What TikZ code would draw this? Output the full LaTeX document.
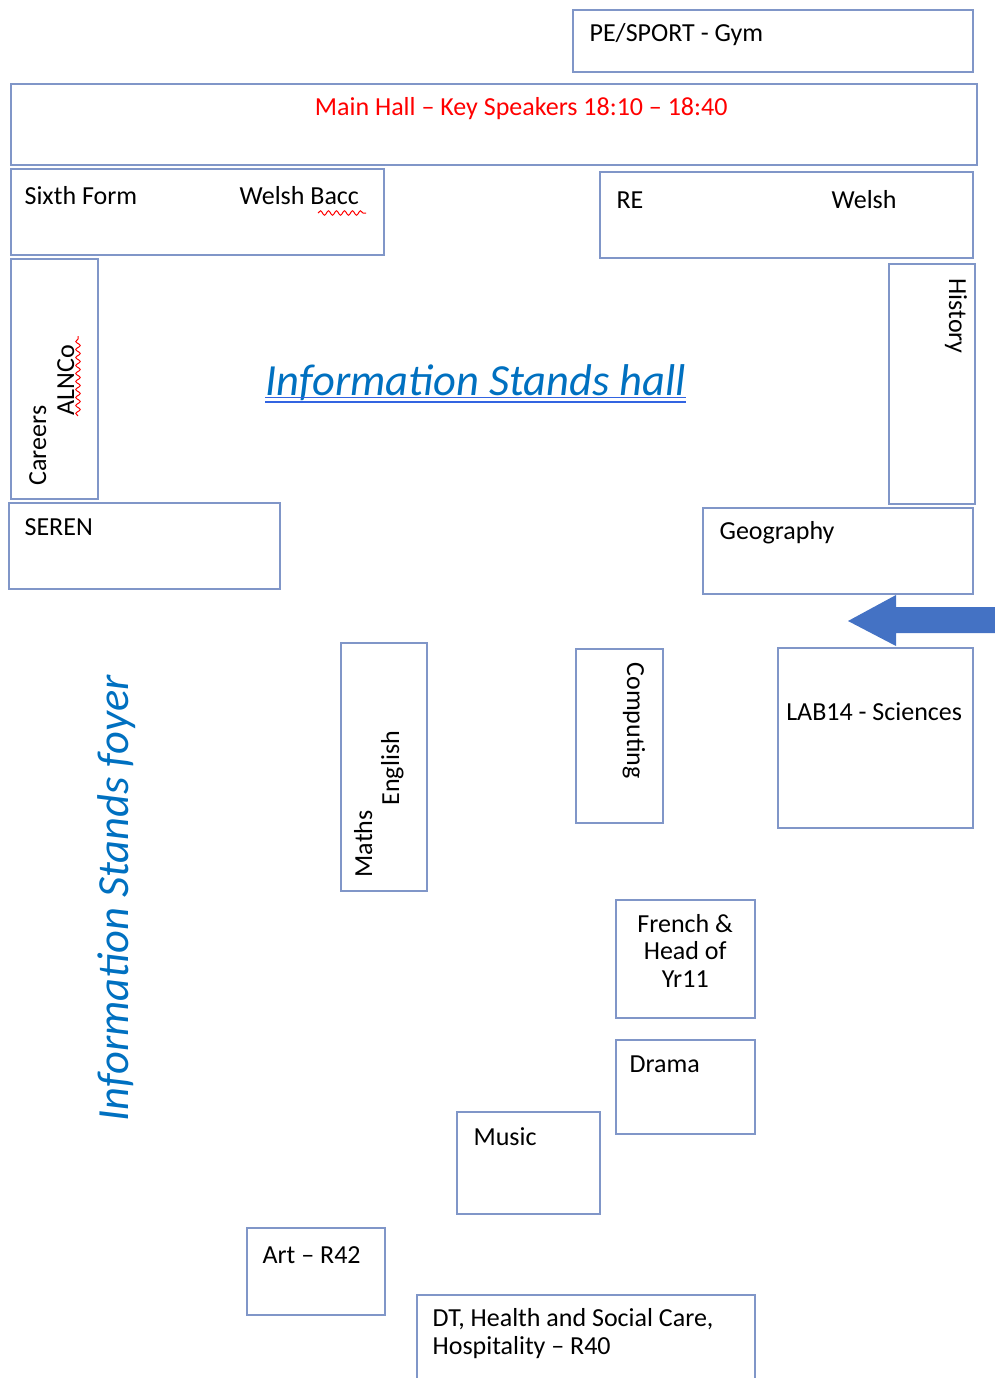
\documentclass[tikz,border=0pt]{standalone}
\usepackage{fontspec}
\setmainfont{Carlito}
\usetikzlibrary{positioning, fit, calc, decorations.pathmorphing}

\definecolor{roomline}{RGB}{128,150,200}
\definecolor{titleblue}{RGB}{0,112,192}
\definecolor{ulblue}{RGB}{50,100,225}
\definecolor{arrowblue}{RGB}{68,114,196}
\definecolor{speakerred}{RGB}{255,0,0}

\begin{document}
\begin{tikzpicture}[x=0.5pt, y=-0.5pt,
        room/.style={draw=roomline, line width=0.8pt, inner sep=0pt},
        lbl/.style={anchor=base west, inner sep=0pt, font=\fontsize{13}{13.75}\selectfont},
        lblc/.style={anchor=base, inner sep=0pt, align=center, font=\fontsize{13}{13.75}\selectfont},
        bigtitle/.style={anchor=base west, inner sep=0pt, text=titleblue, font=\fontsize{22.25}{26}\selectfont\itshape},
        squiggle/.style={draw=red, line width=0.5pt, decorate, decoration={snake, segment length=4pt, amplitude=1.1pt}}
    ]
    \useasboundingbox (0,0) rectangle (995,1378);

    % top row
    \node[room, fit={(573,10) (973,72)}] (pe) {};
    \node[lbl] (pelbl) at ([shift={(17,32)}]pe.north west) {PE/SPORT - Gym};
    \node[room, fit={(11,84) (977,165)}] (mainhall) {};
    \node[lbl, anchor=base, text=speakerred] (mainlbl) at ([shift={(511,32)}]mainhall.north west) {Main Hall – Key Speakers 18:10 – 18:40};

    % hall stands
    \node[room, fit={(11,169) (384,255)}] (sixth) {};
    \node[lbl] (sixthlbl) at ([shift={(14,36)}]sixth.north west) {Sixth Form};
    \node[lbl] (bacclbl) at ([shift={(229,36)}]sixth.north west) {Welsh Bacc};
    \draw[squiggle] (318,213) -- (366,213);
    \node[room, fit={(600,172) (973,258)}] (re) {};
    \node[lbl] (relbl) at ([shift={(17,37)}]re.north west) {RE};
    \node[lbl] (welshlbl) at ([shift={(232,37)}]re.north west) {Welsh};

    \node[room, fit={(11,259) (98,499)}] (careers) {};
    \node[lbl, rotate=90] (careerslbl) at ([shift={(36,-14)}]careers.south west) {Careers};
    \node[lbl, rotate=90] (alncolbl) at ([shift={(64,-84)}]careers.south west) {ALNCo};
    \draw[squiggle] (78,416) -- (78,336);
    \node[room, fit={(889,264) (975,504)}] (history) {};
    \node[lbl, rotate=-90] (historylbl) at ([shift={(61,15)}]history.north west) {History};

    \node[bigtitle] (halltitle) at (265,395) {Information Stands hall};
    \draw[ulblue, line width=0.7pt] ([yshift=-1.2pt]halltitle.base west) -- ([yshift=-1.2pt]halltitle.base east);
    \draw[ulblue, line width=0.7pt] ([yshift=-3.5pt]halltitle.base west) -- ([yshift=-3.5pt]halltitle.base east);

    \node[room, fit={(9,503) (280,589)}] (seren) {};
    \node[lbl] (serenlbl) at ([shift={(16,33)}]seren.north west) {SEREN};
    \node[room, fit={(703,508) (973,594)}] (geog) {};
    \node[lbl] (geoglbl) at ([shift={(17,32)}]geog.north west) {Geography};

    % way in
    \fill[arrowblue] (995,607) -- (896,607) -- (896,595) -- (848,621) -- (896,646) -- (896,633) -- (995,633) -- cycle;

    % foyer stands
    \node[room, fit={(778,648) (973,828)}] (lab) {};
    \node[lblc] (lablbl) at ([shift={(97,73)}]lab.north west) {LAB14 - Sciences};
    \node[room, fit={(341,643) (427,891)}] (mathseng) {};
    \node[lbl, rotate=90] (mathslbl) at ([shift={(32,-14)}]mathseng.south west) {Maths};
    \node[lbl, rotate=90] (englishlbl) at ([shift={(59,-86)}]mathseng.south west) {English};
    \node[room, fit={(576,649) (663,823)}] (computing) {};
    \node[lbl, rotate=-90] (computinglbl) at ([shift={(52,14)}]computing.north west) {Computing};

    \node[bigtitle, rotate=90] (foyertitle) at (128,1122) {Information Stands foyer};

    \node[room, fit={(616,900) (755,1018)}] (french) {};
    \node[lblc] (frenchlbl) at ([shift={(70,88)}]french.north west) {French \&\\Head of\\Yr11};
    \node[room, fit={(616,1040) (755,1134)}] (drama) {};
    \node[lbl] (dramalbl) at ([shift={(14,33)}]drama.north west) {Drama};
    \node[room, fit={(457,1112) (600,1214)}] (music) {};
    \node[lbl] (musiclbl) at ([shift={(17,34)}]music.north west) {Music};
    \node[room, fit={(247,1228) (385,1315)}] (art) {};
    \node[lbl] (artlbl) at ([shift={(16,36)}]art.north west) {Art – R42};
    \node[room, fit={(417,1295) (755,1385)}] (dt) {};
    \node[lbl, align=left] (dtlbl) at ([shift={(16,60)}]dt.north west) {DT, Health and Social Care,\\Hospitality – R40};
\end{tikzpicture}
\end{document}
